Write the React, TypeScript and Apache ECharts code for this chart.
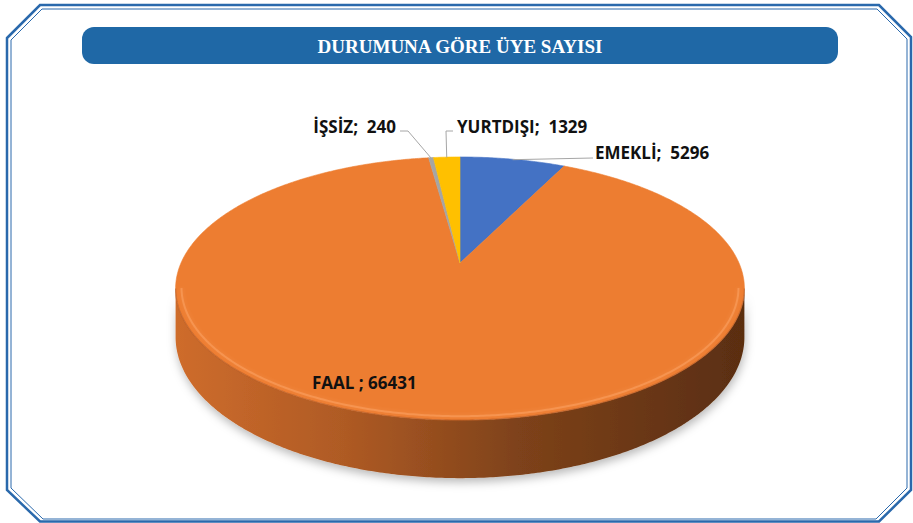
import React, { useEffect, useRef } from 'react';
import * as echarts from 'echarts';

const titleText = 'DURUMUNA GÖRE ÜYE SAYISI';
const categories = ['EMEKLİ', 'FAAL', 'İŞSİZ', 'YURTDIŞI'];
const values = [5296, 66431, 240, 1329];
const separators = [';  ', ' ; ', ';  ', ';  '];
const sliceColors = ['#4472C4', '#ED7D31', '#A5A5A5', '#FFC000'];

// perspective geometry of the 3D pie
const CX = 460;
const CY = 263;
const RX = 279;
const RY = 126.6;
const K = 0.194;
const D0 = 46.8;
const TH_L = Math.acos(-K);
const TH_R = 2 * Math.PI - Math.acos(-K);

function proj(theta: number, drop = 0, scale = 1): number[] {
  const u = Math.sin(theta) * scale;
  const v = -Math.cos(theta) * scale;
  const den = 1 - K * v;
  return [CX + (RX * u) / den, CY + (RY * v) / den + (drop * D0) / den];
}

function arc(a: number, b: number, drop = 0, scale = 1): number[][] {
  const pts: number[][] = [];
  const n = Math.max(2, Math.ceil(((b - a) * 180) / Math.PI / 0.5));
  for (let s = 0; s <= n; s++) pts.push(proj(a + ((b - a) * s) / n, drop, scale));
  return pts;
}

// label layout (text anchor and leader end points)
const labelLayout: any[] = [
  { x: 595, y: 152, align: 'left', leader: [[593, 158]] },
  { x: 312, y: 382, align: 'left', leader: null },
  { x: 396, y: 126, align: 'right', leader: [[400, 131], [408, 131]] },
  { x: 457, y: 126, align: 'left', leader: [[453, 131], [446, 131]] },
];

const LABEL_FONT = 'bold 17px "Open Sans", sans-serif';

export default function App() {
  const ref = useRef<HTMLDivElement>(null);
  useEffect(() => {
    document.body.style.margin = '0';
    const chart = echarts.init(ref.current!, null, { renderer: 'svg' });
    const total = values.reduce((s, v) => s + v, 0);
    const frameColor = '#2A69AC';
    const outer = [[7, 38], [40, 5], [879, 5], [911, 37], [911, 490], [879, 521.5], [40, 521.5], [7, 490]];
    const inner = [[11, 40], [42, 9], [877, 9], [907, 39], [907, 488], [876, 519], [43, 519], [11, 488]];

    chart.setOption({
      animation: false,
      backgroundColor: '#ffffff',
      graphic: [
        { type: 'polygon', shape: { points: outer }, style: { fill: 'none', stroke: frameColor, lineWidth: 2.5 }, silent: true },
        { type: 'polygon', shape: { points: inner }, style: { fill: 'none', stroke: frameColor, lineWidth: 1 }, silent: true },
        { type: 'rect', shape: { x: 82, y: 27, width: 756, height: 37, r: 12 }, style: { fill: '#1F68A6' }, silent: true },
        {
          type: 'text', x: 460, y: 46, silent: true,
          style: {
            text: titleText, fill: '#ffffff', font: 'bold 19px "Liberation Serif", "DejaVu Serif", serif',
            align: 'center', verticalAlign: 'middle', textAlign: 'center', textVerticalAlign: 'middle',
          } as any,
        },
      ],
      series: [
        {
          type: 'custom',
          coordinateSystem: 'none',
          silent: true,
          data: values.map((v, i) => ({ name: categories[i], value: v })),
          renderItem: (params: any, api: any) => {
            const i = params.dataIndex;
            const val = api.value(0);
            let before = 0;
            for (let j = 0; j < i; j++) before += values[j];
            const a0 = (before / total) * 2 * Math.PI;
            const a1 = ((before + val) / total) * 2 * Math.PI;
            const color = sliceColors[i];
            const children: any[] = [];

            // top face
            const top = [[CX, CY], ...arc(a0, a1)];
            children.push({
              type: 'polygon', z2: 5, shape: { points: top },
              style: { fill: color, stroke: color, lineWidth: 0.6 },
            });

            // visible side
            const lo = Math.max(a0, TH_L);
            const hi = Math.min(a1, TH_R);
            if (hi > lo) {
              const upper = arc(lo, hi, 0);
              const lower = arc(lo, hi, 1).reverse();
              children.push({
                type: 'polygon', z2: 1, shape: { points: [...upper, ...lower] },
                style: {
                  fill: {
                    type: 'linear', x: 177, y: 0, x2: 745, y2: 0, global: true,
                    colorStops: [
                      { offset: 0, color: '#CE6C2C' },
                      { offset: 0.3, color: '#AE5A24' },
                      { offset: 0.6, color: '#7E421A' },
                      { offset: 1, color: '#5A2E11' },
                    ],
                  },
                  shadowBlur: 10, shadowColor: 'rgba(0,0,0,0.28)', shadowOffsetY: 4, shadowOffsetX: 1,
                },
              });
              // soft bevel highlight on front rim of the top face
              children.push({
                type: 'polyline', z2: 6, shape: { points: arc(lo, hi, 0, 0.98) },
                style: { stroke: 'rgba(255,170,110,0.45)', lineWidth: 2, fill: 'none', shadowBlur: 4, shadowColor: 'rgba(255,170,110,0.6)' },
              });
              children.push({
                type: 'polyline', z2: 6, shape: { points: arc(lo, hi, 0, 1) },
                style: { stroke: 'rgba(160,75,28,0.45)', lineWidth: 1.2, fill: 'none' },
              });
            }

            // label
            const lay = labelLayout[i];
            const mid = (a0 + a1) / 2;
            if (lay.leader) {
              const anchor = proj(mid, 0, 0.995);
              children.push({
                type: 'polyline', z2: 8, shape: { points: [...lay.leader, anchor] },
                style: { stroke: '#A6A6A6', lineWidth: 1, fill: 'none' },
              });
            }
            children.push({
              type: 'text', z2: 10, x: lay.x, y: lay.y,
              style: {
                text: categories[i] + separators[i] + val,
                fill: '#111111', font: LABEL_FONT,
                align: lay.align, verticalAlign: 'middle',
                textAlign: lay.align, textVerticalAlign: 'middle',
              },
            });
            return { type: 'group', children };
          },
        } as any,
      ],
    });
    return () => chart.dispose();
  }, []);
  return <div ref={ref} style={{ position: 'absolute', left: 0, top: 0, width: 913, height: 523 }} />;
}
